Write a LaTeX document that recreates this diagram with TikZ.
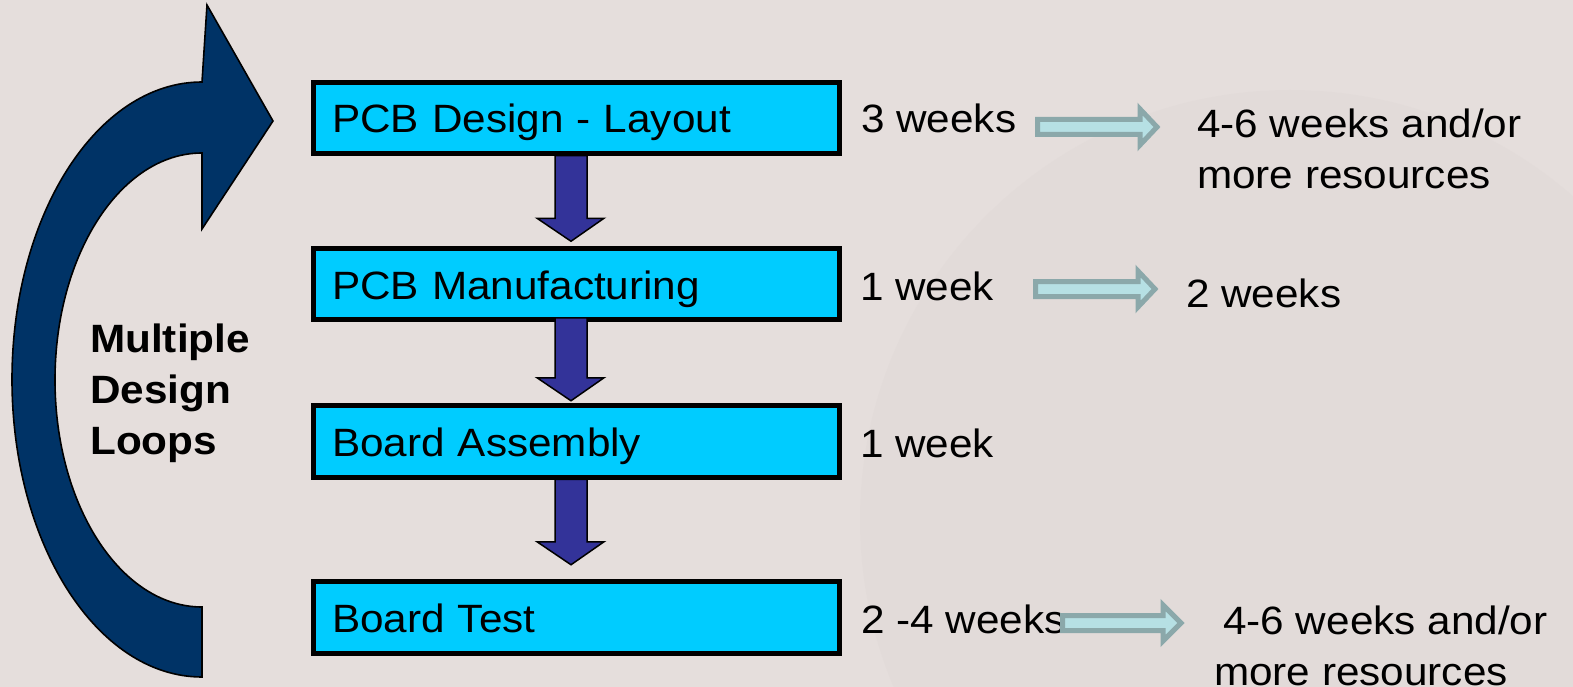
\documentclass[tikz,border=0pt]{standalone}
\usepackage{fontspec}
\setmainfont{Liberation Sans}[FakeStretch=1.07]
\usetikzlibrary{calc}

\definecolor{bg}{HTML}{E5DEDC}
\definecolor{bgshade}{HTML}{DED6D4}
\definecolor{boxblue}{HTML}{00CCFF}
\definecolor{flowblue}{HTML}{333399}
\definecolor{loopnavy}{HTML}{003366}
\definecolor{hollowedge}{HTML}{8BA8AA}
\definecolor{hollowfill}{HTML}{B6E0E4}

% solid block arrow pointing down from one stage box to the next
% #1 upper box, #2 lower box, #3 gap between tip and lower box, #4 overlap into upper box
\newcommand\stagearrow[4]{%
  \draw[flowarrow] let \p1=(#1.south), \p2=(#2.north) in
    (\x1-21.5pt,\y1+#4) -- (\x1-21.5pt,\y2+#3+23pt) -- (\x1-39.5pt,\y2+#3+23pt)
    -- (\x1-5.5pt,\y2+#3) -- (\x1+27.5pt,\y2+#3+23pt) -- (\x1+10.5pt,\y2+#3+23pt)
    -- (\x1+10.5pt,\y1+#4) -- cycle;}

% light outlined block arrow pointing right: #1 tail x, #2 mid y, #3 head base x, #4 tip x
\newcommand\hollowarrow[4]{%
  \draw[hollow] (#1,#2-7.5) -- (#3,#2-7.5) -- (#3,#2-18) -- (#4,#2)
    -- (#3,#2+18) -- (#3,#2+7.5) -- (#1,#2+7.5) -- cycle;}

\begin{document}
\begin{tikzpicture}[x=1pt,y=-1pt,
  stagebox/.style={draw=black, line width=5pt, fill=boxblue,
    minimum width=526pt, minimum height=71.5pt, text width=489pt,
    inner xsep=18.5pt, inner ysep=0pt, align=left,
    text height=30pt, text depth=0pt, font=\fontsize{39.5}{51}\selectfont},
  plain/.style={inner sep=0pt, font=\fontsize{39.5}{51}\selectfont},
  flowarrow/.style={draw=black, line width=1.5pt, fill=flowblue, line join=miter},
  hollow/.style={draw=hollowedge, line width=5pt, fill=hollowfill, line join=miter},
  loopshape/.style={draw=black, line width=1.6pt, fill=loopnavy, line join=miter}]

% page and faint backdrop
\fill[bg] (0,0) rectangle (1573,687);
\useasboundingbox (0,0) rectangle (1573,687);
\fill[bgshade, opacity=0.35] (1290,520) circle[radius=430];

% looping arrow on the left
\draw[loopshape] (202,677)
  arc[start angle=90, end angle=270, x radius=190, y radius=297.5]
  -- (207,5) -- (273,121) -- (202,229) -- (202,153)
  arc[start angle=270, end angle=90, x radius=147, y radius=227] -- cycle;

\node[plain, anchor=north west, align=left, font=\bfseries\fontsize{39.5}{51}\selectfont]
  (loops) at (90,323.7) {Multiple\\Design\\Loops};

% process stages
\node[stagebox] (b1) at (576.5,118)   {PCB Design - Layout};
\node[stagebox] (b2) at (576.5,284)   {PCB Manufacturing};
\node[stagebox] (b3) at (576.5,441.5) {Board Assembly};
\node[stagebox] (b4) at (576.5,617.5) {Board Test};

\stagearrow{b1}{b2}{4.5pt}{0.5pt}
\stagearrow{b2}{b3}{2.5pt}{4.5pt}
\stagearrow{b3}{b4}{14.5pt}{0.5pt}

% durations
\node[plain, anchor=base west] (t1) at (861,133)   {3 weeks};
\node[plain, anchor=base west] (t2) at (860,300)   {1 week};
\node[plain, anchor=base west] (t3) at (860,457.5) {1 week};
\node[plain, anchor=base west] (t4) at (861,633)   {2 -4 weeks};

\node[plain, anchor=north west, align=left] (r1) at (1197,108.7)
  {4-6 weeks and/or\\more resources};
\node[plain, anchor=base west] (r2) at (1186,307) {2 weeks};
\node[plain, anchor=north west, align=left] (r4) at (1214,605.7)
  {\hspace*{9pt}4-6 weeks and/or\\more resources};

\hollowarrow{1037.5}{127}{1140}{1157}
\hollowarrow{1035.5}{289}{1138}{1155}
\hollowarrow{1062.5}{623}{1163}{1181}

\end{tikzpicture}
\end{document}
